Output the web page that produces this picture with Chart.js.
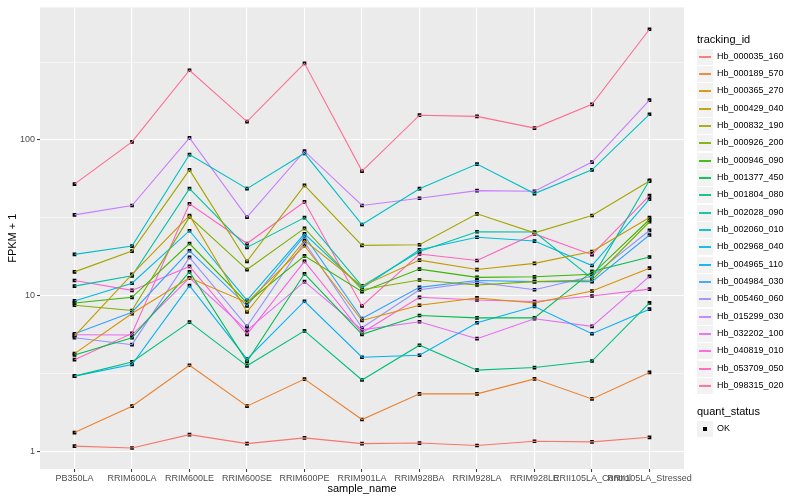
<!DOCTYPE html>
<html>
<head>
<meta charset="utf-8">
<script src="https://cdn.jsdelivr.net/npm/chart.js@4"></script>
<style>
  body { margin: 0; background: #fff; font-family: "Liberation Sans", Arial, sans-serif; }
  #wrap { position: relative; width: 800px; height: 500px; }
  #legend { position: absolute; left: 697px; top: 0; font-size: 9px; color: #000; }
  .ltitle { position: absolute; left: 0; font-size: 11px; white-space: nowrap; }
  .item { position: absolute; left: 0; height: 17px; white-space: nowrap; }
  .key { position: absolute; left: 0; top: 0; width: 16px; height: 16px; background: #F2F2F2; }
  .key i { display: block; position: absolute; left: 2px; top: 7px; width: 12px; height: 2px; opacity: 0.9; }
  .key b { display: block; position: absolute; left: 6px; top: 6px; width: 4px; height: 4px; background: #000; }
  .lab { position: absolute; left: 20px; top: 2px; }
</style>
</head>
<body>
<div id="wrap">
  <canvas id="chart" width="800" height="500"></canvas>
  <div id="legend"></div>
</div>
<script>
// samples on the x axis
var samples = ['PB350LA', 'RRIM600LA', 'RRIM600LE', 'RRIM600SE', 'RRIM600PE', 'RRIM901LA',
  'RRIM928BA', 'RRIM928LA', 'RRIM928LE', 'RRII105LA_Control', 'RRII105LA_Stressed'];

// FPKM + 1 per tracking_id
var hb000035_160 = [1.08, 1.05, 1.28, 1.12, 1.22, 1.12, 1.13, 1.09, 1.16, 1.15, 1.23];
var hb000189_570 = [1.32, 1.95, 3.57, 1.95, 2.91, 1.6, 2.34, 2.34, 2.92, 2.17, 3.21];
var hb000365_270 = [4.24, 7.67, 13.0, 9.0, 20.9, 6.92, 8.67, 9.66, 8.97, 10.7, 15.0];
var hb000429_040 = [5.5, 13.7, 32.7, 7.86, 22.6, 11.5, 16.9, 14.7, 16.1, 19.2, 31.7];
var hb000832_190 = [14.2, 19.3, 64.2, 16.6, 51, 21, 21.2, 33.5, 25.3, 32.7, 54.4];
var hb000926_200 = [8.67, 8.02, 32, 14.7, 27, 10.9, 12.6, 11.7, 12.3, 12.6, 29.8];
var hb000946_090 = [8.97, 9.75, 21.6, 8.97, 18, 10.6, 14.8, 13.1, 13.2, 13.7, 30.8];
var hb001377_450 = [4.16, 5.36, 14.2, 3.77, 13.8, 5.64, 7.45, 7.19, 7.19, 14.3, 17.7];
var hb001804_080 = [3.04, 3.75, 6.76, 3.54, 5.94, 2.87, 4.8, 3.32, 3.45, 3.8, 8.97];
var hb002028_090 = [11.5, 13.4, 48.6, 20.4, 31.7, 11.5, 19.2, 25.7, 25.6, 12.9, 55];
var hb002060_010 = [18.4, 20.8, 80.5, 48.6, 82, 28.6, 48.6, 69.9, 45.2, 64.2, 146];
var hb002968_040 = [9.24, 12.0, 26.1, 9.33, 24.9, 11.2, 19.7, 23.7, 22.4, 15.6, 41.6];
var hb004965_110 = [3.04, 3.61, 11.6, 3.91, 9.2, 4.02, 4.14, 6.69, 8.51, 5.69, 8.18];
var hb004984_030 = [5.69, 7.82, 19.4, 8.6, 24.2, 7.13, 11.3, 12.5, 12.3, 12.3, 24.5];
var hb005460_060 = [5.36, 4.84, 17.6, 6.34, 22, 6.21, 10.9, 12.2, 10.9, 13.3, 26.2];
var hb015299_030 = [33, 37.9, 103, 31.9, 84.6, 37.9, 42.2, 47.2, 46.8, 72, 180];
var hb032202_100 = [5.6, 5.58, 13.0, 5.98, 12.3, 6.03, 6.79, 5.29, 7.1, 6.34, 13.3];
var hb040819_010 = [12.5, 10.8, 15.4, 5.63, 16.6, 5.77, 9.75, 9.37, 9.16, 9.94, 11.0];
var hb053709_050 = [3.88, 5.72, 38.8, 21.6, 40, 8.58, 18.5, 16.8, 24.9, 18.3, 43.9];
var hb098315_020 = [52, 97, 280, 131, 310, 63, 144, 141.5, 119, 169, 513];

var trackingIds = ['Hb_000035_160', 'Hb_000189_570', 'Hb_000365_270', 'Hb_000429_040', 'Hb_000832_190',
  'Hb_000926_200', 'Hb_000946_090', 'Hb_001377_450', 'Hb_001804_080', 'Hb_002028_090',
  'Hb_002060_010', 'Hb_002968_040', 'Hb_004965_110', 'Hb_004984_030', 'Hb_005460_060',
  'Hb_015299_030', 'Hb_032202_100', 'Hb_040819_010', 'Hb_053709_050', 'Hb_098315_020'];
var seriesValues = [hb000035_160, hb000189_570, hb000365_270, hb000429_040, hb000832_190,
  hb000926_200, hb000946_090, hb001377_450, hb001804_080, hb002028_090,
  hb002060_010, hb002968_040, hb004965_110, hb004984_030, hb005460_060,
  hb015299_030, hb032202_100, hb040819_010, hb053709_050, hb098315_020];

// ggplot default hue palette for 20 groups
var colors = ['#F8766D', '#EA8331', '#D89000', '#C09B00', '#A3A500', '#7CAE00', '#39B600', '#00BB4E',
  '#00BF7D', '#00C1A3', '#00BFC4', '#00BAE0', '#00B0F6', '#35A2FF', '#9590FF', '#C77CFF',
  '#E76BF3', '#FA62DB', '#FF62BC', '#FF6C91'];

var yMajor = [1, 10, 100];
var yTicks = [1, 3.1623, 10, 31.623, 100, 316.23];

var FONT = '"Liberation Sans", Arial, sans-serif';

var datasets = [];
var allPoints = [];
seriesValues.forEach(function(vals, i) {
  var pts = vals.map(function(v, j) { return { x: j, y: v }; });
  datasets.push({
    label: trackingIds[i],
    data: pts,
    borderColor: colors[i],
    borderWidth: 1.1,
    pointRadius: 0,
    fill: false,
    tension: 0
  });
  allPoints = allPoints.concat(pts);
});
// points drawn on top of every line
datasets.push({
  label: 'OK',
  data: allPoints,
  showLine: false,
  pointStyle: 'rect',
  pointRadius: 2.6,
  pointBackgroundColor: '#000',
  pointBorderColor: '#000',
  borderWidth: 0
});

var panelBg = {
  id: 'panelBg',
  beforeDraw: function(chart) {
    var a = chart.chartArea, c = chart.ctx;
    c.save();
    c.fillStyle = '#EBEBEB';
    c.fillRect(a.left, a.top, a.right - a.left, a.bottom - a.top);
    c.restore();
  }
};

var isMajor = function(v) { return yMajor.some(function(m) { return Math.abs(m - v) < 1e-6; }); };

new Chart(document.getElementById('chart').getContext('2d'), {
  type: 'line',
  data: { datasets: datasets },
  plugins: [panelBg],
  options: {
    responsive: false,
    animation: false,
    layout: { padding: { left: 0, top: 4, right: 116, bottom: 0 } },
    plugins: { legend: { display: false }, tooltip: { enabled: false } },
    scales: {
      x: {
        type: 'linear',
        min: -0.6,
        max: 10.6,
        afterBuildTicks: function(s) { s.ticks = samples.map(function(_, i) { return { value: i }; }); },
        afterFit: function(s) { s.height = 31; },
        ticks: {
          autoSkip: false, maxRotation: 0, minRotation: 0, padding: 1,
          color: '#4D4D4D', font: { family: FONT, size: 9 },
          callback: function(v) { return samples[v]; }
        },
        grid: { color: '#FFFFFF', lineWidth: 1.1, tickLength: 3, tickColor: '#333333', tickWidth: 1 },
        border: { display: false },
        title: { display: true, text: 'sample_name', color: '#000', font: { family: FONT, size: 11 }, padding: { top: 0, bottom: 4 } }
      },
      y: {
        type: 'logarithmic',
        min: 0.77,
        max: 709,
        afterBuildTicks: function(s) { s.ticks = yTicks.map(function(v) { return { value: v }; }); },
        afterFit: function(s) { s.width = 40; },
        ticks: {
          padding: 2, color: '#4D4D4D', font: { family: FONT, size: 9 },
          callback: function(v) { return isMajor(v) ? String(v) : ''; }
        },
        grid: {
          color: '#FFFFFF',
          lineWidth: function(c) { return c.tick && isMajor(c.tick.value) ? 1.1 : 0.55; },
          tickLength: 3,
          tickColor: function(c) { return c.tick && isMajor(c.tick.value) ? '#333333' : 'rgba(0,0,0,0)'; },
          tickWidth: 1
        },
        border: { display: false },
        title: { display: true, text: 'FPKM + 1', color: '#000', font: { family: FONT, size: 11 }, padding: { top: 6, bottom: 0 } }
      }
    }
  }
});

// ggplot style legend on the right
var legend = document.getElementById('legend');
var html = '<div class="ltitle" style="top:33px">tracking_id</div>';
trackingIds.forEach(function(id, i) {
  var top = Math.round(48.5 + i * 17.35);
  html += '<div class="item" style="top:' + top + 'px"><span class="key"><i style="background:' + colors[i] + '"></i></span>' +
    '<span class="lab">' + id + '</span></div>';
});
html += '<div class="ltitle" style="top:405px">quant_status</div>';
html += '<div class="item" style="top:421px"><span class="key"><b></b></span><span class="lab">OK</span></div>';
legend.innerHTML = html;
</script>
</body>
</html>
